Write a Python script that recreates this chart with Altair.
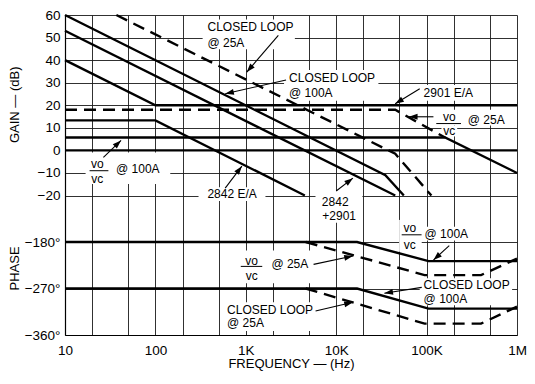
import math
import altair as alt
import pandas as pd

FONT = "Liberation Sans"

# ---------------- axis ticks ----------------
x_grid_values = [10, 20, 50, 100, 200, 500, 1000, 2000, 5000, 10000, 20000, 50000,
                 100000, 200000, 500000, 1000000]
x_label_values = [10, 100, 1000, 10000, 100000, 1000000]
x_label_texts = ["10", "100", "1K", "10K", "100K", "1M"]
gain_tick_values = [60, 50, 40, 30, 20, 10, 0, -10, -20]
gain_tick_texts = ["60", "50", "40", "30", "20", "10", "0", "−10", "−20"]
phase_tick_values = [-180, -270, -360]
phase_tick_texts = ["−180°", "−270°", "−360°"]

# ---------------- gain curves (Hz, dB) ----------------
cl25_gain_f = [37, 45000, 113000]
cl25_gain_db = [60, -1.5, -20]
cl100_gain_f = [10, 35000, 56000]
cl100_gain_db = [60, -11, -20]
ea_sum_gain_f = [10, 45000]
ea_sum_gain_db = [53, -20]
ea2842_gain_f = [10, 100, 4500]
ea2842_gain_db = [13.3, 13.3, -20]
ea2901_gain_f = [10, 100, 1000000]
ea2901_gain_db = [40, 20, 20]
vovc25_gain_f = [10, 45000, 160000]
vovc25_gain_db = [18, 18, 5.7]
vovc100_gain_f = [10, 160000, 1000000]
vovc100_gain_db = [5.7, 5.7, -10]
unity_gain_f = [10, 1000000]
unity_gain_db = [0, 0]

# ---------------- phase curves (Hz, degrees) ----------------
vovc100_ph_f = [10, 17000, 105000, 1000000]
vovc100_ph_deg = [-180, -180, -217, -217]
vovc25_ph_f = [4600, 95000, 400000, 1000000]
vovc25_ph_deg = [-180, -244, -244, -212]
cl100_ph_f = [10, 17000, 105000, 1000000]
cl100_ph_deg = [-270, -270, -309, -309]
cl25_ph_f = [4600, 95000, 400000, 1000000]
cl25_ph_deg = [-270, -338, -338, -305]

# shared vertical scale: gain in dB on top, phase panel mapped below it
Y_MIN, Y_MAX = -81.8, 60
PH_TOP = -40.6            # where -180 deg sits
PH_PER_DEG = 20.6 / 90.0  # vertical units per degree


def ph(deg):
    return PH_TOP + (deg + 180.0) * PH_PER_DEG


phase_tick_pos = [ph(d) for d in phase_tick_values]

curves = [
    ("cl25_gain", "dashed", cl25_gain_f, cl25_gain_db, False),
    ("cl100_gain", "solid", cl100_gain_f, cl100_gain_db, False),
    ("ea_sum", "solid", ea_sum_gain_f, ea_sum_gain_db, False),
    ("ea2842", "solid", ea2842_gain_f, ea2842_gain_db, False),
    ("ea2901", "solid", ea2901_gain_f, ea2901_gain_db, False),
    ("vovc25_gain", "dashed", vovc25_gain_f, vovc25_gain_db, False),
    ("vovc100_gain", "solid", vovc100_gain_f, vovc100_gain_db, False),
    ("unity", "solid", unity_gain_f, unity_gain_db, False),
    ("vovc100_ph", "solid", vovc100_ph_f, vovc100_ph_deg, True),
    ("vovc25_ph", "dashed", vovc25_ph_f, vovc25_ph_deg, True),
    ("cl100_ph", "solid", cl100_ph_f, cl100_ph_deg, True),
    ("cl25_ph", "dashed", cl25_ph_f, cl25_ph_deg, True),
]
rows = []
for name, style, fs, vs, is_phase in curves:
    for i, (f, v) in enumerate(zip(fs, vs)):
        rows.append({"series": name, "style": style, "f": f,
                     "u": ph(v) if is_phase else v, "i": i})
curve_df = pd.DataFrame(rows)

# ---------------- annotations (frequency, vertical position) ----------------
label_texts = ["CLOSED LOOP", "@ 25A", "CLOSED LOOP", "@ 100A", "2901 E/A", "@ 25A",
               "@ 100A", "@ 100A", "@ 25A", "CLOSED LOOP", "@ 100A", "CLOSED LOOP", "@ 25A"]
label_f = [377, 377, 3010, 3010, 92700, 286000, 36.7, 95000, 1920, 92700, 92700, 621, 621]
label_u = [54.7, 47.7, 32.3, 25.3, 25.5, 13.6, -8.4, -36.9, -50.5, -59.8, -65.9, -70.6, -76.7]

center_texts = ["vo", "vc", "vo", "vc", "2842 E/A", "2842", "+2901", "vo", "vc", "vo", "vc"]
center_f = [178000, 178000, 22.8, 22.8, 705, 9750, 10790, 65300, 65300, 1160, 1160]
center_u = [14.9, 8.4, -6.2, -12.7, -19.3, -23.0, -28.9, -34.3, -41.8, -48.8, -55.8]

bar_f1 = [128000, 18.7, 53000, 880]
bar_f2 = [240000, 30.2, 88000, 1520]
bar_u = [11.9, -9.0, -37.4, -51.4]

arrow_tail_f = [2290, 2790, 83900, 119000, 26.6, 592, 10000, 178000, 5620, 88300, 5910]
arrow_tail_u = [51.0, 31.2, 27.3, 14.9, -3.1, -16.7, -18.0, -42.2, -50.5, -60.7, -71.2]
arrow_tip_f = [1026, 592, 44900, 63700, 41.7, 905, 15300, 119000, 15300, 34100, 15300]
arrow_tip_u = [34.7, 25.1, 20.7, 14.9, 4.4, -7.0, -12.3, -48.6, -46.8, -63.3, -67.3]

box_f1 = [333, 2650, 83900, 138000, 146000, 16.9, 300, 5900, 49700, 91000, 818, 83900, 563]
box_f2 = [3490, 29300, 460000, 861000, 218000, 146, 1650, 19500, 88300, 360000, 5620, 883000, 5620]
box_u1 = [58.0, 35.6, 29.0, 18.0, 11.0, -0.9, -16.3, -18.0, -30.8, -33.8, -44.4, -56.7, -67.3]
box_u2 = [44.8, 22.0, 22.0, 11.0, 6.2, -14.9, -22.4, -32.1, -44.9, -39.9, -58.9, -68.6, -80.0]

label_df = pd.DataFrame({"f": label_f, "u": label_u, "t": label_texts})
center_df = pd.DataFrame({"f": center_f, "u": center_u, "t": center_texts})
bar_df = pd.DataFrame({"f": bar_f1, "f2": bar_f2, "u": bar_u, "u2": bar_u})
box_df = pd.DataFrame({"f": box_f1, "f2": box_f2, "u": box_u1, "u2": box_u2})

PLOT_W, PLOT_H = 452, 320
PX_PER_DEC = PLOT_W / 5.0
PX_PER_U = PLOT_H / (Y_MAX - Y_MIN)
arr = []
for tf, tu, hf, hu in zip(arrow_tail_f, arrow_tail_u, arrow_tip_f, arrow_tip_u):
    dx = PX_PER_DEC * (math.log10(hf) - math.log10(tf))
    dy = -PX_PER_U * (hu - tu)
    ang = math.degrees(math.atan2(dx, -dy)) % 360
    arr.append({"f": tf, "u": tu, "f2": hf, "u2": hu, "ang": ang})
arrow_df = pd.DataFrame(arr)
head_df = pd.DataFrame({"f": arrow_df["f2"], "u": arrow_df["u2"], "ang": arrow_df["ang"]})

title_df = pd.DataFrame({"f": [10, 10], "u": [20.2, -52.3], "t": ["GAIN — (dB)", "PHASE"]})

# ---------------- axes ----------------
def ternary(vals, texts, tol):
    expr = "''"
    for v, t in reversed(list(zip(vals, texts))):
        expr = f"abs(datum.value - ({v})) < {tol} ? '{t}' : ({expr})"
    return expr


x_label_expr = ternary(x_label_values, x_label_texts, 0.5)
y_values = gain_tick_values + phase_tick_pos
y_label_expr = ternary(y_values, gain_tick_texts + phase_tick_texts, 0.01)

xscale = alt.Scale(type="log", domain=[10, 1000000], nice=False)
yscale = alt.Scale(domain=[Y_MIN, Y_MAX], nice=False, zero=False)

xaxis = alt.Axis(values=x_grid_values, labelExpr=x_label_expr, grid=True,
                 gridColor="#1a1a1a", gridWidth=0.9, ticks=False, domain=True,
                 domainColor="#000", domainWidth=1.2, labelFont=FONT, labelFontSize=13.5,
                 labelColor="#000", labelPadding=8, labelFlush=False, labelOverlap=False,
                 title="FREQUENCY — (Hz)", titleFont=FONT, titleFontSize=13,
                 titleFontWeight="normal", titleColor="#000", titlePadding=1)
yaxis = alt.Axis(values=y_values, labelExpr=y_label_expr, grid=True,
                 gridColor="#1a1a1a", gridWidth=0.9, ticks=False, domain=True,
                 domainColor="#000", domainWidth=1.2, labelFont=FONT, labelFontSize=13.5,
                 labelColor="#000", labelPadding=5, labelFlush=False, labelOverlap=False,
                 title=None)

X = alt.X("f:Q", scale=xscale, axis=xaxis)
Y = alt.Y("u:Q", scale=yscale, axis=yaxis)

boxes = alt.Chart(box_df).mark_rect(color="white").encode(x=X, x2="f2:Q", y=Y, y2="u2:Q")

solid = alt.Chart(curve_df).transform_filter("datum.style == 'solid'").mark_line(
    color="#000", strokeWidth=2.4, strokeCap="butt", strokeJoin="miter").encode(
    x=X, y=Y, detail="series:N", order="i:Q")
dashed = alt.Chart(curve_df).transform_filter("datum.style == 'dashed'").mark_line(
    color="#000", strokeWidth=2.4, strokeDash=[12, 7], strokeCap="butt").encode(
    x=X, y=Y, detail="series:N", order="i:Q")

bars = alt.Chart(bar_df).mark_rule(color="#000", strokeWidth=1).encode(
    x=X, x2="f2:Q", y=Y, y2="u2:Q")
arrow_lines = alt.Chart(arrow_df).mark_rule(color="#000", strokeWidth=1.1).encode(
    x=X, x2="f2:Q", y=Y, y2="u2:Q")
HEAD = "M0,0L0.34,1L-0.34,1Z"
heads = alt.Chart(head_df).mark_point(shape=HEAD, filled=True, color="#000",
                                      size=300, opacity=1, strokeWidth=0).encode(
    x=X, y=Y, angle=alt.Angle("ang:Q", scale=None))

left_text = alt.Chart(label_df).mark_text(align="left", baseline="middle", font=FONT,
                                          fontSize=12, color="#000").encode(
    x=X, y=Y, text="t:N")
center_text = alt.Chart(center_df).mark_text(align="center", baseline="middle", font=FONT,
                                             fontSize=12, color="#000").encode(
    x=X, y=Y, text="t:N")
titles = alt.Chart(title_df).mark_text(align="center", baseline="middle", font=FONT,
                                       fontSize=13, color="#000", angle=270, dy=-50).encode(
    x=X, y=Y, text="t:N")

chart = alt.layer(boxes, solid, dashed, bars, arrow_lines, heads, left_text,
                  center_text, titles).properties(
    width=PLOT_W, height=PLOT_H,
    padding={"left": 57, "top": 7, "right": 10, "bottom": 36},
    autosize=alt.AutoSizeParams(type="none"),
    background="white",
).configure_view(stroke=None)

chart.save("out.html", embed_options={"renderer": "svg", "actions": False})
